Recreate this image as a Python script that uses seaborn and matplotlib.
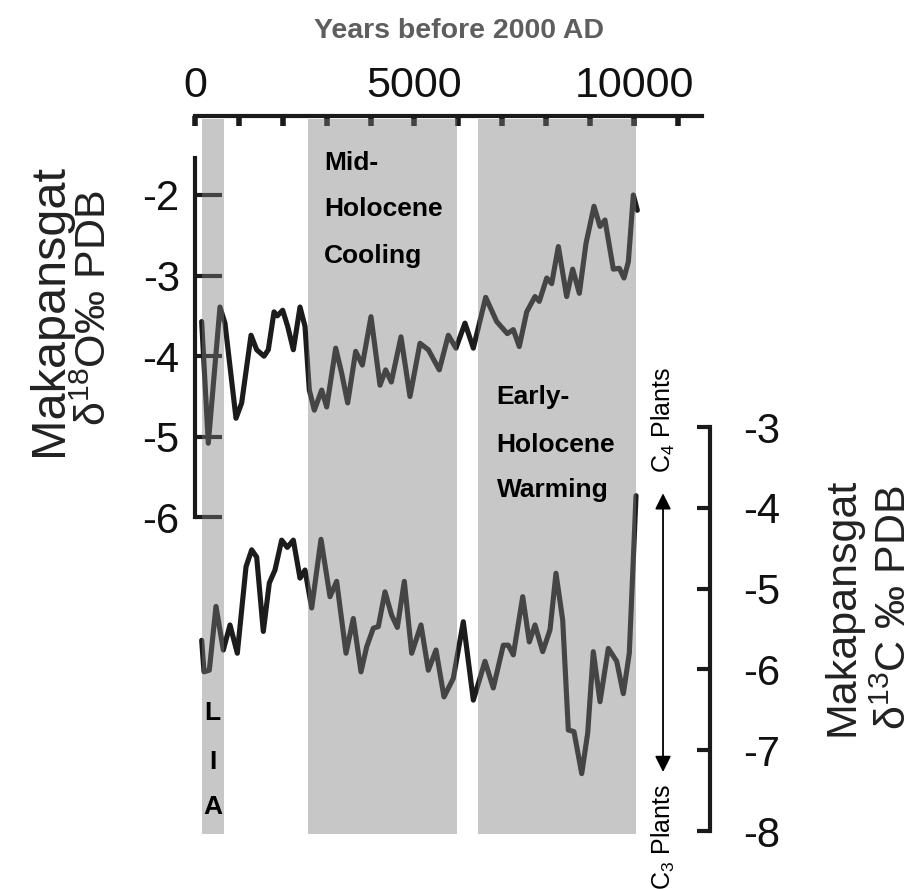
import matplotlib
matplotlib.use("Agg")
import matplotlib.pyplot as plt
import numpy as np
import pandas as pd
import seaborn as sns

# Makapansgat stalagmite oxygen isotope record (years before 2000 AD, per mil PDB)
o18_years = [152, 303, 569, 683, 934, 1063, 1276, 1405, 1572, 1670, 1800, 1875, 1997,
             2111, 2240, 2392, 2506, 2604, 2718, 2886, 3000, 3205, 3341, 3478, 3660,
             3812, 4009, 4214, 4343, 4472, 4692, 4897, 5125, 5315, 5565, 5770, 5945,
             6150, 6340, 6622, 6872, 7114, 7251, 7387, 7556, 7745, 7843, 8012, 8125,
             8277, 8466, 8603, 8755, 8907, 9089, 9226, 9339, 9529, 9666, 9772, 9871,
             9985, 10076]
o18_values = [-3.57, -5.08, -3.39, -3.59, -4.77, -4.58, -3.74, -3.92, -4.00, -3.92, -3.45,
              -3.50, -3.43, -3.63, -3.92, -3.39, -3.63, -4.42, -4.67, -4.42, -4.63, -3.90,
              -4.21, -4.58, -3.94, -4.11, -3.51, -4.36, -4.17, -4.32, -3.76, -4.50, -3.84,
              -3.92, -4.17, -3.74, -3.90, -3.59, -3.90, -3.27, -3.57, -3.72, -3.67, -3.88,
              -3.45, -3.26, -3.32, -3.03, -3.10, -2.64, -3.26, -2.92, -3.22, -2.60, -2.14,
              -2.39, -2.31, -2.92, -2.91, -3.03, -2.83, -2.00, -2.19]

# Makapansgat stalagmite carbon isotope record
c13_years = [152, 205, 326, 478, 645, 797, 964, 1162, 1291, 1405, 1556, 1693, 1822, 1974,
             2103, 2240, 2392, 2506, 2658, 2870, 3075, 3227, 3440, 3606, 3781, 3911, 4062,
             4176, 4328, 4480, 4609, 4768, 4936, 5148, 5315, 5490, 5672, 5884, 6112, 6340,
             6606, 6795, 7023, 7137, 7251, 7465, 7615, 7745, 7920, 8087, 8223, 8376, 8504,
             8633, 8809, 8945, 9073, 9226, 9415, 9606, 9757, 9893, 10046]
c13_values = [-5.64, -6.03, -6.01, -5.22, -5.76, -5.45, -5.80, -4.73, -4.52, -4.61, -5.53,
              -4.93, -4.77, -4.40, -4.49, -4.40, -4.87, -4.77, -5.24, -4.39, -5.10, -4.91,
              -5.80, -5.37, -6.03, -5.72, -5.49, -5.47, -5.04, -5.33, -5.48, -4.91, -5.80,
              -5.45, -6.01, -5.76, -6.34, -6.11, -5.41, -6.38, -5.90, -6.23, -5.70, -5.70,
              -5.82, -5.10, -5.66, -5.45, -5.78, -5.51, -4.81, -5.39, -6.75, -6.77, -7.29,
              -6.79, -5.78, -6.40, -5.74, -5.90, -6.30, -5.80, -3.85]

# Climate episodes (years before 2000 AD)
band_start = [150, 2580, 6450]
band_end = [650, 5960, 10040]

top_major_ticks = [0, 5000, 10000]
top_minor_ticks = list(range(0, 12000, 1000))
o18_ticks = [-2, -3, -4, -5, -6]
c13_ticks = [-3, -4, -5, -6, -7, -8]

sns.set_theme(style="white")
plt.rcParams['font.family'] = ['Liberation Sans', 'DejaVu Sans']
plt.rcParams['mathtext.fontset'] = 'custom'
plt.rcParams['mathtext.rm'] = 'Liberation Sans'
plt.rcParams['axes.unicode_minus'] = False

W, H = 918, 889
fig = plt.figure(figsize=(W / 100, H / 100), dpi=100)
ax = fig.add_axes([195 / W, 1 - 834 / H, 507 / W, 718 / H])
ax.patch.set_alpha(0)
ax2 = ax.twinx()

line_kw = dict(color="#1c1c1c", linewidth=3.7, solid_joinstyle="round",
               solid_capstyle="round")
o18 = pd.DataFrame({"year": o18_years, "value": o18_values})
c13 = pd.DataFrame({"year": c13_years, "value": c13_values})
sns.lineplot(data=o18, x="year", y="value", ax=ax, sort=False, estimator=None, **line_kw)
sns.lineplot(data=c13, x="year", y="value", ax=ax2, sort=False, estimator=None, **line_kw)

ax.set_xlim(0, 11549)
ax.set_ylim(-9.928, -1.020)
ax2.set_ylim(-8.037, 0.849)

# Shaded episodes sit over the curves and ticks
for s, e in zip(band_start, band_end):
    ax2.axvspan(s, e, ymin=0, ymax=0.9958, color="#7e7e7e", alpha=0.426,
                linewidth=0, zorder=5)

# Spines
for sp in ["bottom", "right"]:
    ax.spines[sp].set_visible(False)
for sp in ["bottom", "top", "left"]:
    ax2.spines[sp].set_visible(False)
ax.spines["top"].set_linewidth(3)
ax.spines["top"].set_color("#1a1a1a")
ax.spines["left"].set_linewidth(3)
ax.spines["left"].set_color("#1a1a1a")
ax.spines["left"].set_bounds(-6, -1.54)
ax2.spines["right"].set_linewidth(3)
ax2.spines["right"].set_color("#1a1a1a")
ax2.spines["right"].set_bounds(-8, -3)
ax2.spines["right"].set_position(("outward", 5.8))

# Top time axis
ax.xaxis.tick_top()
ax.set_xticks(top_major_ticks)
ax.set_xticks(top_minor_ticks, minor=True)
ax.set_xticklabels([str(t) for t in top_major_ticks])
ax.tick_params(axis="x", which="both", direction="in", length=7.5, width=4,
               color="#1a1a1a", top=True, bottom=False, labeltop=True,
               labelbottom=False)
ax.tick_params(axis="x", which="major", labelsize=31, pad=7, labelcolor="#111111")
ax.set_xlabel("")
ax.set_ylabel("")

# Oxygen isotope axis
ax.set_yticks(o18_ticks)
ax.set_yticklabels([str(t) for t in o18_ticks])
ax.tick_params(axis="y", which="major", direction="in", length=19.5, width=3,
               color="#1a1a1a", left=True, right=False, labelsize=30, pad=11,
               labelcolor="#111111")

# Carbon isotope axis
ax2.set_yticks(c13_ticks)
ax2.set_yticklabels([str(t) for t in c13_ticks])
ax2.tick_params(axis="y", which="major", direction="in", length=9.5, width=3,
                color="#1a1a1a", right=True, left=False, labelsize=30, pad=24,
                labelcolor="#111111")
ax2.set_ylabel("")

fig.text(459 / W, 1 - 31 / H, "Years before 2000 AD", ha="center", va="center",
         fontsize=20.5, fontweight="bold", color="#5e5e5e")

fig.text(50 / W, 1 - 310 / H, "Makapansgat", rotation=90, ha="center", va="center",
         fontsize=35, color="#222222")
fig.text(95 / W, 1 - 308 / H, r"δ$^\mathregular{18}$O‰ PDB", rotation=90,
         ha="center", va="center", fontsize=31, color="#222222")
fig.text(843 / W, 1 - 607 / H, "Makapansgat", rotation=90, ha="center", va="center",
         fontsize=31, color="#222222")
fig.text(895 / W, 1 - 607 / H, r"δ$^\mathregular{13}$C ‰ PDB", rotation=90,
         ha="center", va="center", fontsize=31, color="#222222")

# Episode labels
txt_kw = dict(transform=ax2.transAxes, fontsize=19, fontweight="bold",
              color="black", zorder=10, va="center")
for word, yf in zip(["Mid-", "Holocene", "Cooling"], [0.9345, 0.8705, 0.805]):
    ax2.text(0.2544, yf, word, ha="left", **txt_kw)
for word, yf in zip(["Early-", "Holocene", "Warming"], [0.609, 0.5418, 0.479]):
    ax2.text(0.595, yf, word, ha="left", **txt_kw)
for word, yf in zip(["L", "I", "A"], [0.1685, 0.1007, 0.038]):
    ax2.text(0.0343, yf, word, ha="center", **txt_kw)

# C4 / C3 plant direction arrow
arrow_x = 10661
ax2.annotate("", xy=(arrow_x, -3.82), xytext=(arrow_x, -7.27),
             arrowprops=dict(arrowstyle="<|-|>", color="black", lw=1.3,
                             mutation_scale=24, shrinkA=0, shrinkB=0),
             annotation_clip=False)
ax2.text(arrow_x, -3.57, r"C$_\mathregular{4}$ Plants", rotation=90, ha="center",
         va="bottom", fontsize=18, color="black", clip_on=False)
ax2.text(arrow_x, -7.42, r"C$_\mathregular{3}$ Plants", rotation=90, ha="center",
         va="top", fontsize=18, color="black", clip_on=False)

fig.savefig("out.png", dpi=100)
